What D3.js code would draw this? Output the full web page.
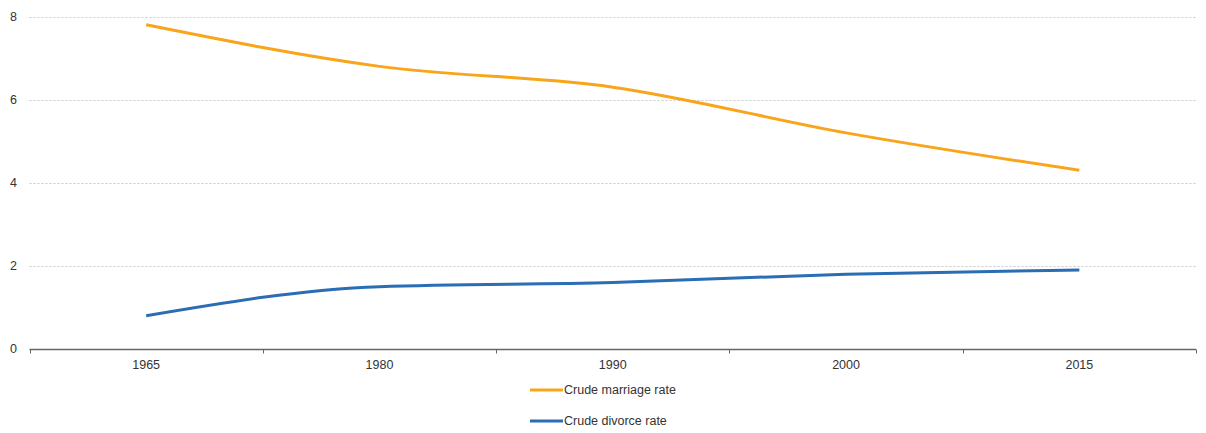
<!DOCTYPE html>
<head>
    <script src="https://cdnjs.cloudflare.com/ajax/libs/d3/7.8.5/d3.min.js"></script>
    <style>
        body { margin: 0; background: #fff; }
        svg { font-family: "Liberation Sans", Arial, sans-serif; }
        .grid line { stroke: #c8c8c8; stroke-dasharray: 2,2; stroke-width: 1; }
        .series { fill: none; stroke-width: 3; }
    </style>
</head>
<body>
    <div id="chart"></div>
    <script>
        const years = ['1965', '1980', '1990', '2000', '2015'];
        const marriage = [7.8, 6.8, 6.3, 5.2, 4.3];
        const divorce = [0.8, 1.5, 1.6, 1.8, 1.9];
        const yTicks = [0, 2, 4, 6, 8];

        const series = [
            { name: 'Crude marriage rate', values: marriage, color: '#f9a51b' },
            { name: 'Crude divorce rate', values: divorce, color: '#2a6db5' }
        ];

        const width = 1206, height = 433;
        const margin = { top: 16.5, right: 10, bottom: 84, left: 29.5 };
        const fontSize = '12.5px';

        const svg = d3.select('#chart').append('svg')
            .attr('width', width)
            .attr('height', height);

        const x = d3.scaleBand()
            .domain(years)
            .range([margin.left, width - margin.right]);

        const y = d3.scaleLinear()
            .domain([0, 8])
            .range([height - margin.bottom, margin.top]);

        // gridlines
        svg.append('g').attr('class', 'grid')
            .selectAll('line')
            .data(yTicks.filter(d => d > 0))
            .enter().append('line')
                .attr('x1', margin.left)
                .attr('x2', width - margin.right)
                .attr('y1', d => Math.round(y(d)) + 0.5)
                .attr('y2', d => Math.round(y(d)) + 0.5);

        // y labels
        svg.append('g')
            .selectAll('text')
            .data(yTicks)
            .enter().append('text')
                .attr('x', 17)
                .attr('y', d => y(d))
                .attr('dy', '0.35em')
                .attr('text-anchor', 'end')
                .attr('fill', '#333')
                .style('font-size', fontSize)
                .text(d => d);

        // x axis
        const xAxis = svg.append('g')
            .attr('transform', `translate(0,${Math.round(y(0)) + 0.5})`);
        xAxis.append('line')
            .attr('x1', margin.left).attr('x2', width - margin.right)
            .attr('stroke', '#666').attr('stroke-width', 1.5);
        const bounds = years.map(d => x(d)).concat([x.range()[1]]);
        xAxis.selectAll('.tk')
            .data(bounds)
            .enter().append('line')
                .attr('x1', d => Math.round(d) + 0.5).attr('x2', d => Math.round(d) + 0.5)
                .attr('y1', 0).attr('y2', 4)
                .attr('stroke', '#666');
        xAxis.selectAll('text')
            .data(years)
            .enter().append('text')
                .attr('x', d => x(d) + x.bandwidth() / 2)
                .attr('y', 19)
                .attr('text-anchor', 'middle')
                .attr('fill', '#333')
                .style('font-size', fontSize)
                .text(d => d);

        // lines
        const line = d3.line()
            .x((d, i) => x(years[i]) + x.bandwidth() / 2)
            .y(d => y(d))
            .curve(d3.curveMonotoneX);

        svg.append('g').selectAll('path')
            .data(series)
            .enter().append('path')
                .attr('class', 'series')
                .attr('stroke', d => d.color)
                .attr('d', d => line(d.values));

        // legend
        const legend = svg.append('g').selectAll('g')
            .data(series)
            .enter().append('g')
                .attr('transform', (d, i) => `translate(530,${390 + i * 31})`);
        legend.append('line')
            .attr('x1', 0).attr('x2', 33)
            .attr('stroke', d => d.color)
            .attr('stroke-width', 3);
        legend.append('text')
            .attr('x', 34)
            .attr('dy', '0.35em')
            .attr('fill', '#333')
            .style('font-size', fontSize)
            .text(d => d.name);
    </script>
</body>
